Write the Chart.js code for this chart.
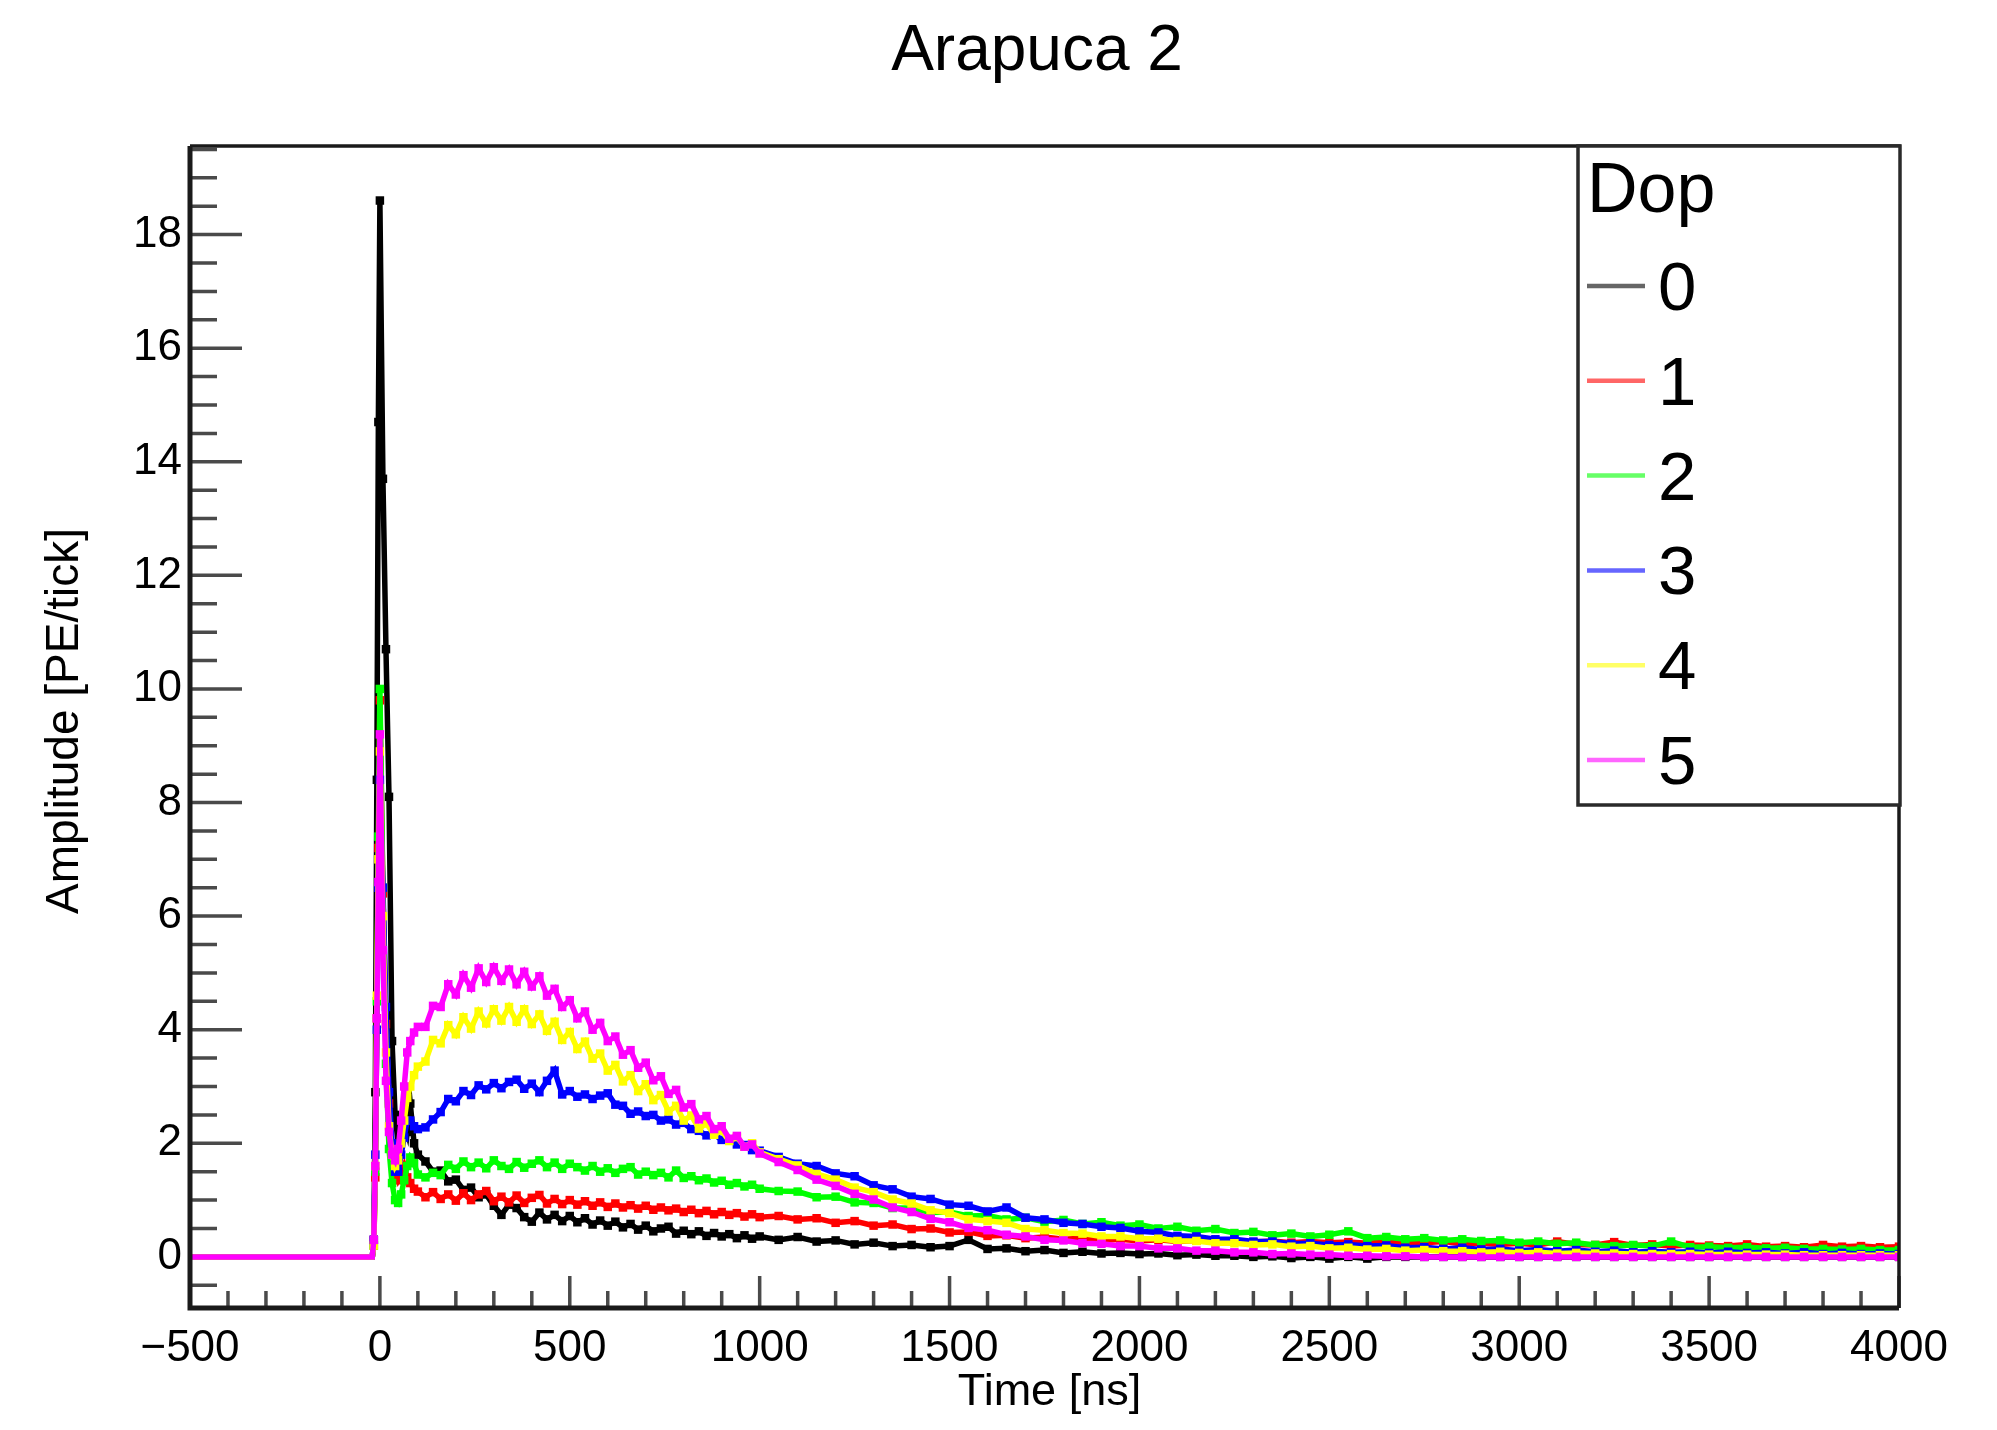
<!DOCTYPE html>
<html><head><meta charset="utf-8">
<script src="https://cdn.jsdelivr.net/npm/chart.js@4.4.1/dist/chart.umd.min.js"></script>
<style>html,body{margin:0;padding:0;background:#fff;}canvas{display:block;}</style>
</head><body>
<canvas id="c" width="1997" height="1430" style="width:1997px;height:1430px"></canvas>
<script>
const chartTitle = 'Arapuca 2';
const xAxisTitle = 'Time [ns]';
const yAxisTitle = 'Amplitude [PE/tick]';
const legendHeader = 'Dop';
const seriesLabels = ['0', '1', '2', '3', '4', '5'];
const xTickLabels = [-500, 0, 500, 1000, 1500, 2000, 2500, 3000, 3500, 4000];
const yTickLabels = [0, 2, 4, 6, 8, 10, 12, 14, 16, 18];

const timeNs = [-500, -20, -16, -12, -8, -4, 0, 8, 16, 24, 32, 40, 48, 56, 64, 72, 80, 90, 100,
  120, 140, 160, 180, 200, 220, 240, 260, 280, 300, 320, 340, 360, 380, 400, 420, 440, 460, 480, 500,
  520, 540, 560, 580, 600, 620, 640, 660, 680, 700, 720, 740, 760, 780, 800, 820, 840, 860, 880, 900,
  920, 940, 960, 980, 1000,
  1050, 1100, 1150, 1200, 1250, 1300, 1350, 1400, 1450, 1500, 1550, 1600, 1650, 1700, 1750, 1800,
  1850, 1900, 1950, 2000, 2050, 2100, 2150, 2200, 2250, 2300, 2350, 2400, 2450, 2500, 2550, 2600,
  2650, 2700, 2750, 2800, 2850, 2900, 2950, 3000, 3050, 3100, 3150, 3200, 3250, 3300, 3350, 3400,
  3450, 3500, 3550, 3600, 3650, 3700, 3750, 3800, 3850, 3900, 3950, 4000];

const dop0 = [0, 0, 0.3, 2.9, 8.4, 14.7, 18.6, 13.7, 10.7, 8.1, 3.8, 2.5, 2.0, 2.1, 2.4, 2.2, 2.7, 2.0, 1.8,
  1.68, 1.50, 1.52, 1.33, 1.36, 1.18, 1.22, 1.05, 1.10, 0.90, 0.74, 0.92, 0.86, 0.70, 0.62, 0.78, 0.66, 0.74, 0.63, 0.72,
  0.61, 0.68, 0.57, 0.64, 0.55, 0.62, 0.52, 0.58, 0.48, 0.55, 0.45, 0.50, 0.53, 0.41, 0.46, 0.40, 0.45, 0.37, 0.42, 0.36,
  0.40, 0.33, 0.38, 0.32, 0.36,
  0.30, 0.35, 0.27, 0.29, 0.22, 0.25, 0.19, 0.21, 0.17, 0.19, 0.30, 0.14, 0.15, 0.10, 0.12, 0.07,
  0.09, 0.06, 0.07, 0.05, 0.06, 0.03, 0.04, 0.02, 0.02, 0, 0.01, -0.02, 0, -0.03, 0, -0.03,
  0, 0, 0, 0, 0, 0, 0, 0, 0, 0, 0, 0, 0, 0, 0, 0,
  0, 0, 0, 0, 0, 0, 0, 0, 0, 0, 0, 0];
const dop1 = [0, 0, 0.2, 1.4, 4.2, 7.2, 9.8, 6.4, 4.1, 2.7, 1.9, 1.5, 1.35, 1.45, 1.6, 1.4, 1.3, 1.2, 1.15,
  1.05, 1.14, 1.02, 1.10, 0.99, 1.12, 1.00, 1.10, 1.16, 0.98, 1.06, 0.96, 1.08, 0.95, 1.04, 1.09, 0.94, 1.02, 0.93, 1.00,
  0.92, 0.98, 0.90, 0.96, 0.88, 0.94, 0.87, 0.91, 0.85, 0.90, 0.83, 0.87, 0.82, 0.85, 0.79, 0.83, 0.77, 0.81, 0.75, 0.79,
  0.74, 0.77, 0.71, 0.75, 0.70,
  0.72, 0.66, 0.68, 0.60, 0.63, 0.55, 0.57, 0.49, 0.50, 0.43, 0.44, 0.37, 0.38, 0.33, 0.35, 0.31,
  0.33, 0.29, 0.31, 0.28, 0.30, 0.27, 0.29, 0.27, 0.28, 0.26, 0.28, 0.25, 0.27, 0.25, 0.26, 0.24,
  0.26, 0.23, 0.25, 0.27, 0.23, 0.24, 0.22, 0.24, 0.21, 0.27, 0.22, 0.21, 0.26, 0.20, 0.22, 0.19,
  0.21, 0.20, 0.19, 0.22, 0.18, 0.19, 0.17, 0.21, 0.18, 0.19, 0.17, 0.18];
const dop2 = [0, 0, 0.2, 1.5, 4.5, 7.4, 10.0, 6.5, 3.4, 1.9, 1.3, 1.0, 0.95, 1.1, 1.35, 1.6, 1.75, 1.65, 1.45,
  1.40, 1.48, 1.44, 1.62, 1.55, 1.68, 1.58, 1.66, 1.56, 1.70, 1.60, 1.55, 1.67, 1.57, 1.64, 1.70, 1.58, 1.66, 1.55, 1.64,
  1.58, 1.52, 1.60, 1.50, 1.56, 1.48, 1.55, 1.58, 1.45, 1.50, 1.44, 1.48, 1.40, 1.52, 1.39, 1.42, 1.35, 1.38, 1.31, 1.34,
  1.27, 1.30, 1.24, 1.27, 1.20,
  1.16, 1.15, 1.05, 1.06, 0.96, 0.95, 0.86, 0.86, 0.78, 0.79, 0.72, 0.73, 0.66, 0.69, 0.62, 0.65,
  0.58, 0.61, 0.55, 0.57, 0.50, 0.53, 0.46, 0.49, 0.42, 0.44, 0.38, 0.41, 0.36, 0.39, 0.45, 0.33,
  0.35, 0.31, 0.33, 0.29, 0.31, 0.28, 0.29, 0.25, 0.27, 0.23, 0.25, 0.21, 0.19, 0.21, 0.19, 0.27,
  0.17, 0.18, 0.16, 0.17, 0.15, 0.16, 0.14, 0.14, 0.13, 0.14, 0.12, 0.12];
const dop3 = [0, 0, 0.3, 1.8, 4.0, 6.5, 8.4, 6.5, 4.4, 2.9, 2.0, 1.5, 1.5, 1.8, 2.1, 2.4, 2.4, 2.3, 2.25,
  2.28, 2.42, 2.55, 2.78, 2.74, 2.92, 2.85, 3.02, 2.95, 3.06, 2.97, 3.08, 3.12, 2.96, 3.05, 2.90, 3.10, 3.28, 2.86, 2.92,
  2.82, 2.86, 2.78, 2.84, 2.88, 2.68, 2.66, 2.52, 2.56, 2.48, 2.50, 2.40, 2.42, 2.33, 2.36, 2.25, 2.22, 2.14, 2.16, 2.06,
  2.07, 1.98, 1.97, 1.88, 1.87,
  1.76, 1.64, 1.60, 1.47, 1.42, 1.26, 1.19, 1.06, 1.02, 0.92, 0.90, 0.80, 0.87, 0.69, 0.66, 0.60,
  0.58, 0.53, 0.51, 0.45, 0.43, 0.37, 0.36, 0.31, 0.31, 0.27, 0.27, 0.23, 0.24, 0.21, 0.22, 0.19,
  0.20, 0.16, 0.17, 0.14, 0.16, 0.13, 0.14, 0.11, 0.13, 0.10, 0.12, 0.09, 0.11, 0.08, 0.10, 0.08,
  0.09, 0.07, 0.09, 0.07, 0.08, 0.06, 0.08, 0.05, 0.07, 0.05, 0.06, 0.05];
const dop4 = [0, 0, 0.2, 1.6, 4.6, 7.0, 8.9, 6.0, 3.6, 2.3, 1.8, 1.6, 1.7, 2.0, 2.4, 2.8, 3.0, 3.2, 3.35,
  3.44, 3.82, 3.76, 4.08, 3.92, 4.22, 4.02, 4.32, 4.11, 4.36, 4.16, 4.40, 4.14, 4.36, 4.10, 4.27, 3.98, 4.14, 3.82, 3.96,
  3.66, 3.79, 3.49, 3.58, 3.28, 3.38, 3.09, 3.20, 2.92, 3.04, 2.76, 2.85, 2.56, 2.66, 2.40, 2.49, 2.26, 2.35, 2.15, 2.22,
  2.04, 2.11, 1.94, 2.00, 1.84,
  1.72, 1.61, 1.46, 1.36, 1.22, 1.14, 1.01, 0.94, 0.82, 0.77, 0.66, 0.63, 0.60, 0.49, 0.47, 0.42,
  0.41, 0.36, 0.36, 0.32, 0.32, 0.28, 0.28, 0.24, 0.24, 0.21, 0.22, 0.18, 0.19, 0.15, 0.16, 0.13,
  0.14, 0.11, 0.12, 0.10, 0.10, 0.08, 0.09, 0.07, 0.08, 0.06, 0.07, 0.06, 0.06, 0.05, 0.05, 0.05,
  0.05, 0.04, 0.04, 0.04, 0.04, 0.04, 0.03, 0.03, 0.03, 0.03, 0.03, 0.03];
const dop5 = [0, 0, 0.3, 1.6, 4.2, 6.6, 9.2, 5.4, 3.1, 2.2, 1.8, 1.7, 1.9, 2.4, 3.0, 3.6, 3.8, 3.95, 4.05,
  4.05, 4.42, 4.40, 4.80, 4.62, 4.96, 4.74, 5.08, 4.84, 5.10, 4.86, 5.06, 4.80, 5.02, 4.76, 4.94, 4.60, 4.72, 4.40, 4.52,
  4.20, 4.32, 4.00, 4.12, 3.80, 3.88, 3.56, 3.64, 3.33, 3.42, 3.11, 3.18, 2.87, 2.94, 2.63, 2.69, 2.42, 2.48, 2.25, 2.30,
  2.08, 2.13, 1.94, 1.98, 1.82,
  1.67, 1.53, 1.36, 1.25, 1.11, 1.01, 0.87, 0.79, 0.67, 0.61, 0.51, 0.47, 0.39, 0.36, 0.30, 0.29,
  0.24, 0.23, 0.19, 0.19, 0.15, 0.15, 0.11, 0.11, 0.08, 0.08, 0.05, 0.06, 0.04, 0.04, 0.02, 0.02,
  0.01, 0.01, 0, 0, 0, 0, 0, 0, 0, 0, 0, 0, 0, 0, 0, 0,
  0, 0, 0, 0, 0, 0, 0, 0, 0, 0, 0, 0];

const seriesColors = ['#000000', '#ff0000', '#00ff00', '#0000ff', '#ffff00', '#ff00ff'];
const legendColors = ['#666666', '#ff6666', '#66ff66', '#6666ff', '#ffff66', '#ff66ff'];
const FONT = '"Liberation Sans", Arial, Helvetica, sans-serif';

const seriesValues = [dop0, dop1, dop2, dop3, dop4, dop5];
const datasets = seriesValues.map((vals, k) => ({
  label: seriesLabels[k],
  data: timeNs.map((t, i) => ({ x: t, y: vals[i] })),
  borderColor: seriesColors[k],
  backgroundColor: seriesColors[k],
  pointBackgroundColor: seriesColors[k],
  pointBorderColor: seriesColors[k],
  pointBorderWidth: 0,
  pointStyle: 'rect',
  pointRadius: (c) => (timeNs[c.dataIndex] < -16 ? 0 : 6),
  borderWidth: 5.5,
  borderJoinStyle: 'miter',
  tension: 0,
  fill: false,
  order: 5 - k
}));

const rootStyle = {
  id: 'rootStyle',
  beforeDraw(chart) {
    const c = chart.ctx;
    c.save();
    c.fillStyle = '#ffffff';
    c.fillRect(0, 0, chart.width, chart.height);
    c.restore();
  },
  beforeDatasetsDraw(chart) {
    const c = chart.ctx;
    const { left, bottom } = chart.chartArea;
    const xs = chart.scales.x, ys = chart.scales.y;
    c.save();
    c.strokeStyle = '#4a4a4a';
    c.lineWidth = 3.5;
    c.beginPath();
    for (let k = -5; k <= 40; k++) {
      const px = xs.getPixelForValue(k * 100);
      const len = (k % 5 === 0) ? 32 : 17;
      c.moveTo(px, bottom);
      c.lineTo(px, bottom - len);
    }
    for (let k = -1; k <= 39; k++) {
      const py = ys.getPixelForValue(k * 0.5);
      const len = (k % 4 === 0) ? 52 : 27;
      c.moveTo(left, py);
      c.lineTo(left + len, py);
    }
    c.stroke();
    c.restore();
  },
  afterDraw(chart) {
    const c = chart.ctx;
    const { left, right, top, bottom } = chart.chartArea;
    c.save();
    c.strokeStyle = '#1a1a1a';
    c.lineWidth = 3.5;
    c.beginPath();
    c.moveTo(left, top); c.lineTo(right, top); c.lineTo(right, bottom);
    c.stroke();
    c.lineWidth = 5;
    c.beginPath();
    c.moveTo(left, top); c.lineTo(left, bottom); c.lineTo(right, bottom);
    c.stroke();
    c.fillStyle = '#000';
    c.font = '64px ' + FONT;
    c.textAlign = 'center';
    c.textBaseline = 'alphabetic';
    c.fillText(chartTitle, 1037, 70);
    c.font = '45px ' + FONT;
    c.fillText(xAxisTitle, (left + right) / 2 + 5, 1405);
    c.save();
    c.translate(78, (top + bottom) / 2 - 6);
    c.rotate(-Math.PI / 2);
    c.font = '46px ' + FONT;
    c.fillText(yAxisTitle, 0, 0);
    c.restore();
    const lx = 1578, ly = 146, lw = 322, lh = 659;
    c.fillStyle = '#fff';
    c.fillRect(lx, ly, lw, lh);
    c.strokeStyle = '#2a2a2a';
    c.lineWidth = 3.5;
    c.strokeRect(lx, ly, lw, lh);
    c.fillStyle = '#000';
    c.textAlign = 'left';
    c.font = '70px ' + FONT;
    c.fillText(legendHeader, 1587, 212);
    c.font = '69px ' + FONT;
    chart.data.datasets.forEach((ds, i) => {
      const yy = 286 + i * 94.8;
      c.strokeStyle = legendColors[i];
      c.lineWidth = 4.5;
      c.beginPath();
      c.moveTo(1587, yy); c.lineTo(1645, yy);
      c.stroke();
      c.fillStyle = '#000';
      c.fillText(ds.label, 1658, yy + 24);
    });
    c.restore();
  }
};

new Chart(document.getElementById('c'), {
  type: 'line',
  data: { datasets },
  options: {
    responsive: false,
    animation: false,
    devicePixelRatio: 1,
    layout: { padding: { left: 0, right: 98, top: 146, bottom: 0 } },
    plugins: { legend: { display: false }, tooltip: { enabled: false }, title: { display: false } },
    scales: {
      x: {
        type: 'linear', min: -500, max: 4000,
        grid: { display: false, drawTicks: false },
        border: { display: false },
        afterBuildTicks: (s) => { s.ticks = xTickLabels.map(v => ({ value: v })); },
        afterFit: (s) => { s.height = 122; s.paddingLeft = 0; s.paddingRight = 0; },
        ticks: {
          font: { family: FONT, size: 44 }, color: '#000', padding: 14,
          maxRotation: 0, autoSkip: false,
          callback: (v) => String(v).replace('-', '\u2212')
        }
      },
      y: {
        type: 'linear', min: -0.9, max: 19.56,
        grid: { display: false, drawTicks: false },
        border: { display: false },
        afterBuildTicks: (s) => { s.ticks = yTickLabels.map(v => ({ value: v })); },
        afterFit: (s) => { s.width = 190; s.paddingTop = 0; s.paddingBottom = 0; },
        ticks: {
          font: { family: FONT, size: 44 }, color: '#000', padding: 8, autoSkip: false,
          callback: (v) => String(v)
        }
      }
    }
  },
  plugins: [rootStyle]
});
</script>
</body></html>
